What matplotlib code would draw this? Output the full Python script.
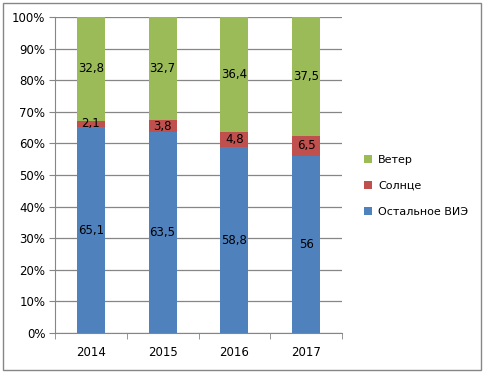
import matplotlib.pyplot as plt
from matplotlib.patches import Rectangle
import numpy as np

# данные
years = ['2014', '2015', '2016', '2017']
other = [65.1, 63.5, 58.8, 56]
sun = [2.1, 3.8, 4.8, 6.5]
wind = [32.8, 32.7, 36.4, 37.5]

other_labels = ['65,1', '63,5', '58,8', '56']
sun_labels = ['2,1', '3,8', '4,8', '6,5']
wind_labels = ['32,8', '32,7', '36,4', '37,5']

plt.rcParams['font.family'] = ['DejaVu Sans']

fig = plt.figure(figsize=(4.85, 3.73), dpi=100)
ax = fig.add_axes([55 / 485, 1 - 333 / 373, 287 / 485, 316 / 373])

# рамка диаграммы
fig.patches.append(Rectangle((3 / 485, 3 / 373), 478 / 485, 367 / 373,
                             transform=fig.transFigure, fill=False,
                             edgecolor='#868686', linewidth=1))

x = np.arange(len(years))
w = 0.39
other = np.array(other)
sun = np.array(sun)
wind = np.array(wind)

ax.bar(x, other, w, color='#4F81BD', label='Остальное ВИЭ', zorder=3)
ax.bar(x, sun, w, bottom=other, color='#C0504D', label='Солнце', zorder=3)
ax.bar(x, wind, w, bottom=other + sun, color='#9BBB59', label='Ветер', zorder=3)

for i in range(len(years)):
    ax.text(x[i], other[i] / 2, other_labels[i], ha='center', va='center',
            fontsize=8.5, zorder=4)
    ax.text(x[i], other[i] + sun[i] / 2, sun_labels[i], ha='center',
            va='center', fontsize=8.5, zorder=4)
    ax.text(x[i], other[i] + sun[i] + wind[i] / 2, wind_labels[i],
            ha='center', va='center', fontsize=8.5, zorder=4)

ax.set_xlim(-0.5, len(years) - 0.5)
ax.set_ylim(0, 100)
ax.set_yticks(np.arange(0, 101, 10))
ax.set_yticklabels([f'{v}%' for v in range(0, 101, 10)], fontsize=8.5)
ax.set_xticks(x)
ax.set_xticklabels(years, fontsize=8.5)
ax.set_xticks(np.arange(-0.5, len(years), 1), minor=True)
ax.tick_params(axis='x', which='major', length=0, pad=9)
ax.tick_params(axis='x', which='minor', length=4, color='#868686')
ax.tick_params(axis='y', length=4, color='#868686', pad=3)
ax.grid(axis='y', color='#868686', linewidth=0.9, zorder=0)

for s in ['top', 'right']:
    ax.spines[s].set_visible(False)
for s in ['left', 'bottom']:
    ax.spines[s].set_color('#868686')

handles, labels = ax.get_legend_handles_labels()
fig.legend(handles[::-1], labels[::-1], loc='center left',
           bbox_to_anchor=(354 / 485, 1 - 186 / 373), frameon=False,
           fontsize=8, handlelength=0.7, handleheight=0.7,
           handletextpad=0.55, labelspacing=1.45)

plt.savefig('out.png', dpi=100)
